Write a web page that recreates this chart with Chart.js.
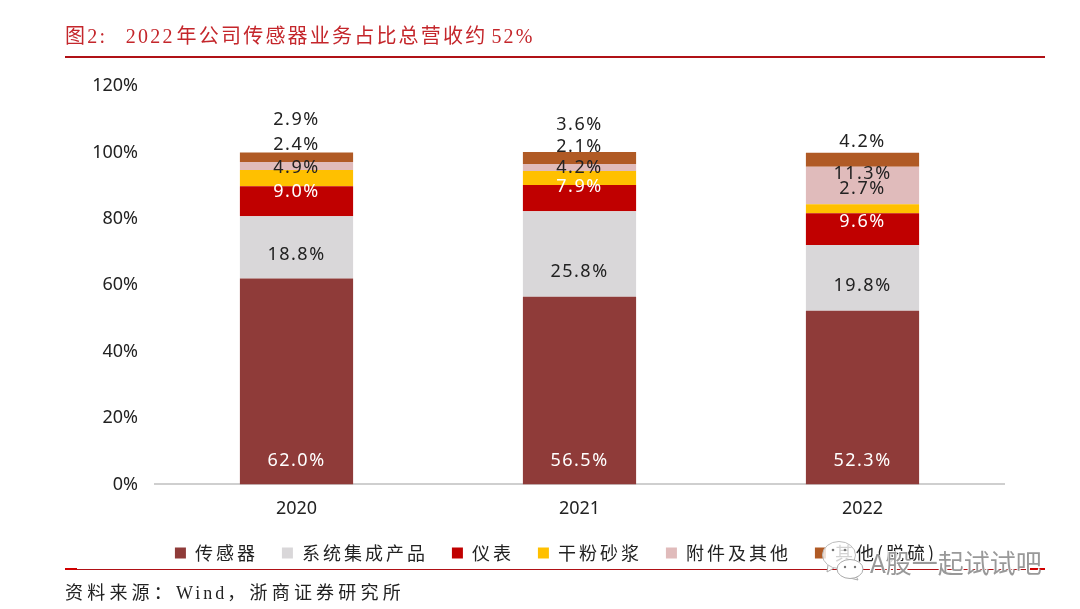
<!DOCTYPE html>
<html>
<head>
<meta charset="utf-8">
<script src="https://cdn.jsdelivr.net/npm/chart.js@4"></script>
<style>
  html, body { margin: 0; padding: 0; background: #fff; }
  #wrap { position: relative; width: 1080px; height: 609px; overflow: hidden; }
  #wrap canvas { position: absolute; left: 0; top: 0; }
  .txt { position: absolute; white-space: pre; font-family: "Liberation Serif", "Noto Sans CJK SC", serif; }
  .rule { position: absolute; background: #b01116; }
  #title { left: 65px; top: 20px; font-size: 20px; letter-spacing: 2.2px; color: #c4262b; }
  #title .gap { letter-spacing: 1.2px; }
  #title .thin { letter-spacing: -3px; }
  #title .thin2 { letter-spacing: -1px; }
  #source { left: 65px; top: 578px; font-size: 18px; letter-spacing: 4.2px; color: #222; }
  #source span { letter-spacing: 3px; }
  #mark { left: 870px; top: 544px; font-size: 26px; line-height: 36px; color: #999; font-family: "Noto Sans CJK SC", sans-serif; text-shadow: 1px 1px 0 #fff, -1px -1px 0 #fff; }
  #wx { position: absolute; left: 822px; top: 541px; }
</style>
</head>
<body>
<div id="wrap">
  <canvas id="c" width="1080" height="609"></canvas>
  <div class="txt" id="title">图2:<span class="gap">   </span>2022<span class="thin"> </span>年公司传感器业务占比总营收约<span class="thin2"> </span>52%</div>
  <div class="rule" style="left:65px;top:56px;width:980px;height:2px"></div>
  <div class="rule" style="left:65px;top:569px;width:980px;height:1px"></div>
  <div class="rule" style="left:65px;top:568px;width:12px;height:2px;background:#d00000"></div>
  <div class="rule" style="left:1030px;top:568px;width:15px;height:2px;background:#d00000"></div>
  <div class="txt" id="source">资料来源&#xFF1A;<span>Wind</span>&#xFF0C;浙商证券研究所</div>
  <svg id="wx" width="46" height="40" viewBox="0 0 46 40">
    <path d="M6 24 L5 31 L12 27" fill="#fff" stroke="#aaa"/>
    <ellipse cx="17" cy="14" rx="16.5" ry="13.5" fill="#fff" fill-opacity="0.8" stroke="#bbb"/>
    <path d="M34 35 L36 39 L28 37" fill="#fff" stroke="#aaa"/>
    <ellipse cx="28" cy="28" rx="13" ry="9.5" fill="#fff" stroke="#aaa"/>
    <circle cx="11" cy="9" r="1.3" fill="#777"/><circle cx="23" cy="9" r="1.3" fill="#777"/>
    <circle cx="23" cy="26" r="1.2" fill="#777"/><circle cx="33" cy="26" r="1.2" fill="#777"/>
  </svg>
  <div class="txt" id="mark">A股一起试试吧</div>
</div>
<script>
// 图表数据
const categories = ['2020', '2021', '2022'];
const seriesNames = ['传感器', '系统集成产品', '仪表', '干粉砂浆', '附件及其他', '其他(脱硫)'];
const sensor = [62.0, 56.5, 52.3];
const systemProducts = [18.8, 25.8, 19.8];
const meters = [9.0, 7.9, 9.6];
const drymix = [4.9, 4.2, 2.7];
const accessories = [2.4, 2.1, 11.3];
const others = [2.9, 3.6, 4.2];
const yTicks = [0, 20, 40, 60, 80, 100, 120];

const colors = ['#8f3b39', '#d9d7d9', '#c00000', '#ffc000', '#e0bbbb', '#b05a25'];
const labelColors = ['#ffffff', '#222222', '#ffffff', '#222222', '#222222', '#222222'];
// 数据标签相对色块中心的偏移(像素)
const labelShift = [
  [79, 70, 63],
  [8, 18, 8],
  [-9, -11, -7],
  [-10, -10, -20],
  [-21, -21, -12],
  [-37, -33, -18]
];
const allSeries = [sensor, systemProducts, meters, drymix, accessories, others];

const barLabels = {
  id: 'barLabels',
  afterInit(chart) {
    // 图例文字加字距,并挪到原图的位置
    const legend = chart.legend;
    const ctx = chart.ctx;
    const fit = legend.fit;
    legend.fit = function () {
      ctx.save();
      ctx.letterSpacing = '3px';
      fit.call(legend);
      ctx.restore();
    };
    const draw = legend.draw;
    legend.draw = function () {
      ctx.save();
      ctx.letterSpacing = '3px';
      ctx.translate(54, -14);
      draw.call(legend);
      ctx.restore();
    };
  },
  afterDatasetsDraw(chart) {
    const ctx = chart.ctx;
    ctx.save();
    ctx.font = '18px "Noto Sans", sans-serif';
    ctx.letterSpacing = '1.5px';
    ctx.textAlign = 'center';
    ctx.textBaseline = 'middle';
    chart.data.datasets.forEach((ds, i) => {
      chart.getDatasetMeta(i).data.forEach((bar, j) => {
        const p = bar.getProps(['x', 'y', 'base'], true);
        ctx.fillStyle = labelColors[i];
        ctx.fillText(ds.data[j].toFixed(1) + '%', p.x, (p.y + p.base) / 2 + labelShift[i][j]);
      });
    });
    ctx.restore();
  }
};

new Chart(document.getElementById('c'), {
  type: 'bar',
  data: {
    labels: categories,
    datasets: allSeries.map((values, i) => ({
      label: seriesNames[i],
      data: values,
      backgroundColor: colors[i],
      categoryPercentage: 1,
      barPercentage: 0.4
    }))
  },
  options: {
    responsive: false,
    animation: false,
    layout: { padding: { left: 0, right: 76, top: 86, bottom: 23 } },
    plugins: {
      tooltip: { enabled: false },
      legend: {
        position: 'bottom',
        labels: {
          boxWidth: 11,
          boxHeight: 11,
          padding: 24,
          color: '#222',
          font: { family: '"Noto Sans CJK SC"', size: 18 }
        }
      }
    },
    scales: {
      x: {
        stacked: true,
        grid: { display: false, drawTicks: false },
        border: { color: '#cfcfcf', width: 2 },
        ticks: { color: '#222', padding: 14, font: { family: '"Noto Sans"', size: 18 } }
      },
      y: {
        stacked: true,
        min: 0,
        max: 120,
        afterFit(scale) { scale.width = 155; },
        afterBuildTicks(scale) { scale.ticks = yTicks.map(v => ({ value: v })); },
        grid: { display: false, drawTicks: false },
        border: { display: false },
        ticks: {
          color: '#222',
          padding: 17,
          font: { family: '"Noto Sans"', size: 18 },
          callback: v => v + '%'
        }
      }
    }
  },
  plugins: [barLabels]
});
</script>
</body>
</html>
